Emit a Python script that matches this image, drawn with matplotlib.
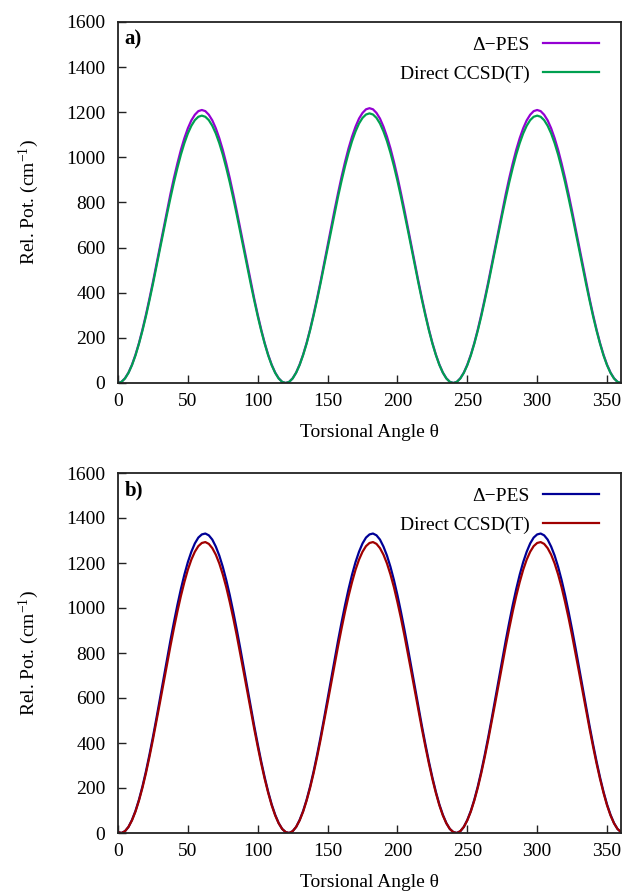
import matplotlib
matplotlib.use("Agg")
import matplotlib.pyplot as plt

plt.rcParams['font.family'] = ['Liberation Serif', 'DejaVu Serif']
plt.rcParams['mathtext.fontset'] = 'custom'
plt.rcParams['mathtext.rm'] = 'Liberation Serif'
plt.rcParams['mathtext.it'] = 'Liberation Serif:italic'

# Torsional angle grid (degrees), 2.5 degree steps from 0 to 360
angle = [i * 2.5 for i in range(145)]

# Panel a: relative potential (cm^-1)
a_delta_pes = [
    0, 5, 21, 46, 81, 125, 177, 237, 303, 374, 448, 526, 605, 684, 762, 837, 908, 973, 1033, 1085, 1129, 1164, 1189, 1205,
    1210, 1205, 1189, 1164, 1129, 1085, 1033, 973, 908, 837, 762, 684, 605, 526, 448, 374, 303, 237, 177, 125, 81, 46, 21, 5,
    0, 5, 21, 46, 82, 126, 178, 238, 305, 376, 451, 530, 609, 689, 767, 842, 914, 980, 1040, 1092, 1136, 1172, 1197, 1213,
    1218, 1213, 1197, 1172, 1136, 1092, 1040, 980, 914, 842, 767, 689, 609, 530, 451, 376, 305, 238, 178, 126, 82, 46, 21, 5,
    0, 5, 21, 46, 81, 125, 177, 237, 303, 374, 448, 526, 605, 684, 762, 837, 908, 973, 1033, 1085, 1129, 1164, 1189, 1205,
    1210, 1205, 1189, 1164, 1129, 1085, 1033, 973, 908, 837, 762, 684, 605, 526, 448, 374, 303, 237, 177, 125, 81, 46, 21, 5,
    0]
a_direct = [
    0, 5, 20, 45, 79, 122, 174, 232, 296, 366, 439, 515, 593, 670, 746, 819, 889, 953, 1012, 1063, 1106, 1140, 1165, 1180,
    1185, 1180, 1165, 1140, 1106, 1063, 1012, 953, 889, 819, 746, 670, 593, 515, 439, 366, 296, 232, 174, 122, 79, 45, 20, 5,
    0, 5, 20, 46, 80, 124, 175, 234, 299, 369, 443, 520, 598, 676, 752, 826, 896, 961, 1020, 1072, 1115, 1150, 1175, 1190,
    1195, 1190, 1175, 1150, 1115, 1072, 1020, 961, 896, 826, 752, 676, 598, 520, 443, 369, 299, 234, 175, 124, 80, 46, 20, 5,
    0, 5, 20, 45, 79, 122, 174, 232, 296, 366, 439, 515, 593, 670, 746, 819, 889, 953, 1012, 1063, 1106, 1140, 1165, 1180,
    1185, 1180, 1165, 1140, 1106, 1063, 1012, 953, 889, 819, 746, 670, 593, 515, 439, 366, 296, 232, 174, 122, 79, 45, 20, 5,
    0]

# Panel b: relative potential (cm^-1)
b_delta_pes = [
    4, 0, 8, 27, 58, 98, 148, 207, 274, 348, 427, 510, 596, 683, 770, 855, 936, 1013, 1084, 1148, 1204, 1250, 1287, 1313,
    1327, 1331, 1323, 1304, 1273, 1233, 1183, 1124, 1057, 983, 904, 821, 735, 648, 561, 476, 395, 318, 247, 183, 127, 81, 44, 18,
    4, 0, 8, 27, 58, 98, 148, 207, 274, 348, 427, 510, 596, 683, 770, 855, 936, 1013, 1084, 1148, 1204, 1250, 1287, 1313,
    1327, 1331, 1323, 1304, 1273, 1233, 1183, 1124, 1057, 983, 904, 821, 735, 648, 561, 476, 395, 318, 247, 183, 127, 81, 44, 18,
    4, 0, 8, 27, 58, 98, 148, 207, 274, 348, 427, 510, 596, 683, 770, 855, 936, 1013, 1084, 1148, 1204, 1250, 1287, 1313,
    1327, 1331, 1323, 1304, 1273, 1233, 1183, 1124, 1057, 983, 904, 821, 735, 648, 561, 476, 395, 318, 247, 183, 127, 81, 44, 18,
    4]
b_direct = [
    4, 0, 8, 27, 56, 95, 144, 201, 266, 338, 415, 496, 579, 663, 748, 830, 909, 984, 1053, 1115, 1170, 1215, 1250, 1275,
    1289, 1293, 1285, 1266, 1237, 1198, 1149, 1092, 1026, 955, 878, 797, 714, 630, 545, 463, 384, 309, 240, 178, 123, 78, 43, 18,
    4, 0, 8, 27, 56, 95, 144, 201, 266, 338, 415, 496, 579, 663, 748, 830, 909, 984, 1053, 1115, 1170, 1215, 1250, 1275,
    1289, 1293, 1285, 1266, 1237, 1198, 1149, 1092, 1026, 955, 878, 797, 714, 630, 545, 463, 384, 309, 240, 178, 123, 78, 43, 18,
    4, 0, 8, 27, 56, 95, 144, 201, 266, 338, 415, 496, 579, 663, 748, 830, 909, 984, 1053, 1115, 1170, 1215, 1250, 1275,
    1289, 1293, 1285, 1266, 1237, 1198, 1149, 1092, 1026, 955, 878, 797, 714, 630, 545, 463, 384, 309, 240, 178, 123, 78, 43, 18,
    4]

legend_labels = ["\u0394\u2212PES", "Direct CCSD(T)"]
panel_tags = ["a)", "b)"]
x_ticks = [0, 50, 100, 150, 200, 250, 300, 350]
y_ticks = [0, 200, 400, 600, 800, 1000, 1200, 1400, 1600]

fig = plt.figure(figsize=(6.29, 8.91), dpi=100)
W, H = 629, 891


def make_ax(top_px, bottom_px):
    left, right = 118, 621
    return fig.add_axes([left / W, 1 - bottom_px / H,
                         (right - left) / W, (bottom_px - top_px) / H])


axa = make_ax(22, 383)
axb = make_ax(473, 833)

panels = [
    (axa, a_delta_pes, a_direct, '#9400d3', '#00a050', panel_tags[0]),
    (axb, b_delta_pes, b_direct, '#000096', '#a00000', panel_tags[1]),
]

FS = 14
for ax, d1, d2, c1, c2, tag in panels:
    ax.plot(angle, d1, color=c1, lw=1.6, label=legend_labels[0],
            solid_joinstyle='round')
    ax.plot(angle, d2, color=c2, lw=1.6, label=legend_labels[1],
            solid_joinstyle='round')
    ax.set_xlim(0, 360)
    ax.set_ylim(0, 1600)
    ax.set_xticks(x_ticks)
    ax.set_yticks(y_ticks)
    ax.tick_params(direction='in', length=6, width=1.0, labelsize=FS,
                   top=False, right=False, colors='#222222',
                   labelcolor='black')
    ax.tick_params(axis='y', pad=9)
    ax.tick_params(axis='x', pad=7)
    for sp in ax.spines.values():
        sp.set_linewidth(1.3)
        sp.set_color('#222222')
    ax.set_xlabel("Torsional Angle \u03b8", fontsize=FS, labelpad=10)
    ax.set_ylabel("Rel. Pot. (cm$^{\u22121}$)", fontsize=FS, labelpad=18)
    ax.text(0.013, 0.978, tag, transform=ax.transAxes, fontsize=FS + 1,
            fontweight='bold', va='top', ha='left')
    ax.legend(loc='upper right', bbox_to_anchor=(0.972, 0.981),
              frameon=False, markerfirst=False, fontsize=FS,
              handlelength=2.9, handletextpad=0.67, labelspacing=0.55,
              borderaxespad=0.0, borderpad=0.4)

fig.savefig("out.png", dpi=100)
